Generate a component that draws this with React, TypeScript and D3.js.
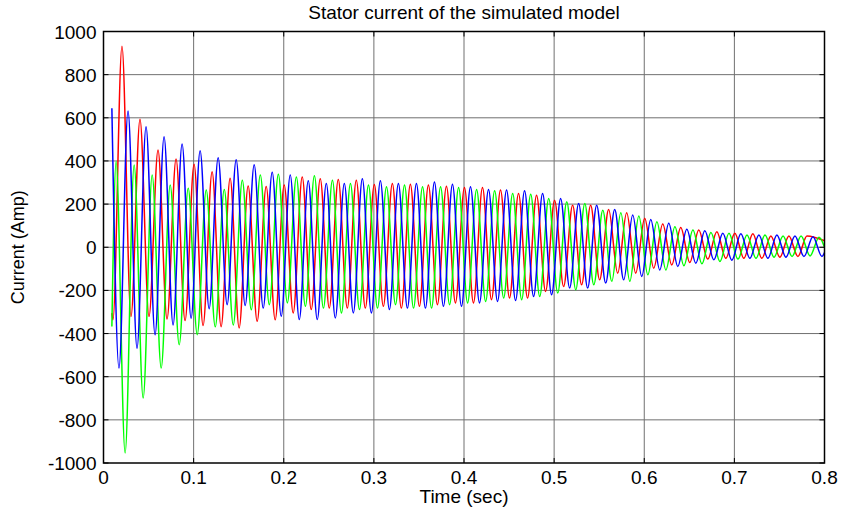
import React from 'react';
import * as d3 from 'd3';

// ---- data ----
const X_TICKS = [0, 0.1, 0.2, 0.3, 0.4, 0.5, 0.6, 0.7, 0.8];
const Y_TICKS = [-1000, -800, -600, -400, -200, 0, 200, 400, 600, 800, 1000];

const START_T = 0.0093;
const END_T = 0.8;
const HALF_PERIOD = 0.01;

// Phase A (red)
const RED_START = -305;
const RED_FIRST_PEAK_T = 0.0205;
const RED_PEAKS = [932, 593, 451, 409, 385, 350, 320, 284, 281, 288, 326, 318, 314, 311, 291, 295, 292, 288, 283, 277, 277, 265, 249, 241, 218, 195, 195, 175, 160, 134, 108, 92, 80, 72, 65, 62, 52, 52, 52];
const RED_TROUGHS = [-336, -321, -321, -333, -340, -363, -368, -374, -343, -336, -305, -289, -282, -282, -282, -274, -282, -274, -266, -258, -258, -243, -235, -235, -205, -182, -174, -151, -120, -120, -97, -82, -71, -55, -51, -51, -51, -46, -43];
const RED_END = 30;

// Phase B (blue)
const BLUE_START = 644;
const BLUE_FIRST_PEAK_T = 0.0272;
const BLUE_PEAKS = [631, 559, 512, 478, 447, 415, 406, 382, 348, 335, 308, 295, 295, 318, 308, 295, 295, 303, 292, 280, 268, 265, 262, 249, 226, 203, 195, 175, 149, 129, 111, 83, 77, 65, 62, 57, 57, 52, 49];
const BLUE_TROUGHS = [-560, -468, -406, -360, -329, -285, -266, -270, -282, -320, -335, -335, -328, -305, -305, -289, -282, -282, -274, -274, -258, -251, -247, -228, -220, -189, -189, -166, -151, -135, -105, -89, -74, -58, -60, -51, -51, -46, -43, -43];
const BLUE_END = -25;

// Phase C (green)
const GREEN_START = -367;
const GREEN_FIRST_PEAK_T = 0.014;
const GREEN_PEAKS = [397, 381, 335, 289, 273, 265, 268, 310, 335, 338, 326, 331, 311, 295, 288, 280, 288, 280, 280, 277, 268, 262, 249, 246, 226, 211, 203, 172, 160, 145, 118, 95, 80, 68, 65, 57, 57, 52, 52, 46];
const GREEN_TROUGHS = [-954, -699, -560, -452, -405, -369, -360, -290, -266, -258, -274, -282, -305, -289, -282, -266, -282, -282, -266, -258, -251, -235, -243, -228, -212, -197, -174, -158, -158, -128, -105, -86, -77, -66, -55, -51, -46, -43, -40];
const GREEN_END = 0;

const TITLE = 'Stator current of the simulated model';
const X_LABEL = 'Time (sec)';
const Y_LABEL = 'Current (Amp)';

type Pt = [number, number];

function buildSeries(start: number, firstPeakT: number, peaks: number[], troughs: number[], end: number): Pt[] {
  const pts: Pt[] = [[START_T, start]];
  peaks.forEach((v, k) => pts.push([firstPeakT + 2 * HALF_PERIOD * k, v]));
  const troughBase = firstPeakT - HALF_PERIOD > START_T ? firstPeakT - HALF_PERIOD : firstPeakT + HALF_PERIOD;
  troughs.forEach((v, k) => pts.push([troughBase + 2 * HALF_PERIOD * k, v]));
  pts.push([END_T, end]);
  return pts.filter((p) => p[0] >= START_T && p[0] <= END_T).sort((a, b) => a[0] - b[0]);
}

const SERIES = [
  { name: 'red', color: '#ff0000', pts: buildSeries(RED_START, RED_FIRST_PEAK_T, RED_PEAKS, RED_TROUGHS, RED_END) },
  { name: 'green', color: '#00ff00', pts: buildSeries(GREEN_START, GREEN_FIRST_PEAK_T, GREEN_PEAKS, GREEN_TROUGHS, GREEN_END) },
  { name: 'blue', color: '#0000ff', pts: buildSeries(BLUE_START, BLUE_FIRST_PEAK_T, BLUE_PEAKS, BLUE_TROUGHS, BLUE_END) },
];

const W = 841;
const H = 513;
const PL = 103.5;
const PR = 824.5;
const PT = 31.5;
const PB = 463;
const FONT = 'Liberation Sans, Arial, Helvetica, sans-serif';
const TICK = 5;

export default function App() {
  const x = d3.scaleLinear().domain([0, 0.8]).range([PL, PR]);
  const y = d3.scaleLinear().domain([-1000, 1000]).range([PB, PT]);
  const line = d3
    .line<Pt>()
    .x((d) => x(d[0]))
    .y((d) => y(d[1]))
    .curve(d3.curveMonotoneX);

  return (
    <svg
      width={W}
      height={H}
      style={{ position: 'absolute', left: 0, top: 0, background: '#fff' }}
      fontFamily={FONT}
    >
      <rect x={0} y={0} width={W} height={H} fill="#fff" />
      {/* grid */}
      <g stroke="#707070" strokeWidth={1}>
        {X_TICKS.slice(1, -1).map((t) => (
          <line key={'gx' + t} x1={x(t)} x2={x(t)} y1={PT} y2={PB} />
        ))}
        {Y_TICKS.slice(1, -1).map((t) => (
          <line key={'gy' + t} x1={PL} x2={PR} y1={y(t)} y2={y(t)} />
        ))}
      </g>
      {/* series */}
      <g fill="none" strokeWidth={1.5} strokeLinejoin="round">
        {SERIES.map((s) => (
          <path key={s.name} d={line(s.pts) || ''} stroke={s.color} />
        ))}
      </g>
      {/* ticks */}
      <g stroke="#000" strokeWidth={1}>
        {X_TICKS.map((t) => (
          <g key={'tx' + t}>
            <line x1={x(t)} x2={x(t)} y1={PB} y2={PB - TICK} />
            <line x1={x(t)} x2={x(t)} y1={PT} y2={PT + TICK} />
          </g>
        ))}
        {Y_TICKS.map((t) => (
          <g key={'ty' + t}>
            <line x1={PL} x2={PL + TICK} y1={y(t)} y2={y(t)} />
            <line x1={PR} x2={PR - TICK} y1={y(t)} y2={y(t)} />
          </g>
        ))}
      </g>
      {/* frame */}
      <rect x={PL} y={PT} width={PR - PL} height={PB - PT} fill="none" stroke="#000" strokeWidth={1.5} />
      {/* tick labels */}
      <g fontSize={19} fill="#000">
        {X_TICKS.map((t) => (
          <text key={'lx' + t} x={x(t)} y={PB + 21} textAnchor="middle">
            {String(t)}
          </text>
        ))}
        {Y_TICKS.map((t) => (
          <text key={'ly' + t} x={PL - 7} y={y(t) + 7} textAnchor="end">
            {String(t)}
          </text>
        ))}
      </g>
      <text x={(PL + PR) / 2} y={19} textAnchor="middle" fontSize={19}>
        {TITLE}
      </text>
      <text x={(PL + PR) / 2} y={503} textAnchor="middle" fontSize={19}>
        {X_LABEL}
      </text>
      <text transform={`translate(24, ${(PT + PB) / 2}) rotate(-90)`} textAnchor="middle" fontSize={18}>
        {Y_LABEL}
      </text>
    </svg>
  );
}
